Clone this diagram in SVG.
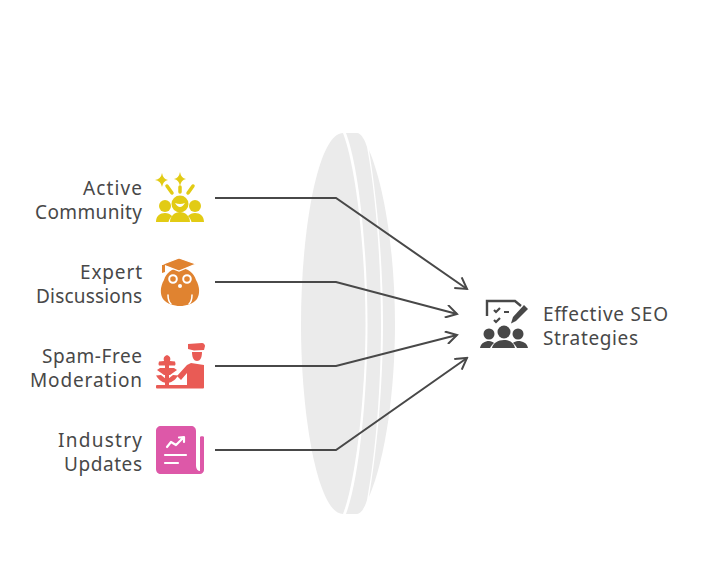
<svg xmlns="http://www.w3.org/2000/svg" width="708" height="564" viewBox="0 0 708 564">
<defs>
<style>
.t{font-family:"Noto Sans","Liberation Sans",sans-serif;font-size:19px;fill:#484848}
.lens{fill:#ebebeb}
.c{fill:none;stroke:#484848;stroke-width:2}
.w{fill:none;stroke:#fff;stroke-linecap:round;stroke-linejoin:round}
</style>
<marker id="a" viewBox="0 0 14 14" refX="12" refY="7" markerWidth="14" markerHeight="14" markerUnits="userSpaceOnUse" orient="auto"><path d="M1,0.500L12,7L1,13.500" fill="none" stroke="#484848" stroke-width="2"/></marker>
</defs>
<g id="lens">
<path class="lens" d="M369,150C386,190 395,260 395,324C395,388 386,458 369,497C377,450 383,385 383,324C383,263 377,198 369,150Z"/>
<path class="lens" d="M346,133H357C361,133 365,140 367,147C376,195 381,263 381,324C381,385 376,452 367,500C365,507 361,514 357,514H346C359,480 367.500,395 367.500,324C367.500,252 359,167 346,133Z"/>
<path class="lens" d="M343,133C318,133 301,230 301,324C301,418 318,514 343,514C356,480 365.500,395 365.500,324C365.500,252 356,167 343,133Z"/>
</g>
<g id="connectors">
<path class="c" marker-end="url(#a)" d="M215,198H336L467,289"/>
<path class="c" marker-end="url(#a)" d="M215,282H336L457,314"/>
<path class="c" marker-end="url(#a)" d="M215,366H336L457,335"/>
<path class="c" marker-end="url(#a)" d="M215,450H336L467,358"/>
</g>
<g id="node-active">
<text class="t" x="83" y="195" textLength="59">Active</text>
<text class="t" x="35" y="219" textLength="107">Community</text>
<g fill="#e2cb14">
<path d="M162,173Q163,179 168,180Q163,181 162,187Q161,181 155,180Q161,179 162,173ZM180,172Q181,178 186,179Q181,180 180,186Q179,180 174,179Q179,178 180,172Z"/>
<circle cx="165" cy="206" r="6"/><circle cx="195" cy="206" r="6"/><circle cx="180" cy="204" r="8.500"/>
<path d="M156,222C156,216 160,213 165,213C168,213 170,214 172,216C170,218 169,220 168.500,222ZM204,222C204,216 200,213 195,213C192,213 190,214 188,216C190,218 191,220 191.500,222ZM170,222C170,216 175,212 180,212C185,212 190,216 190,222Z"/>
<path d="M167,186L172,193M180,187V192M193,186L188,193" fill="none" stroke="#e2cb14" stroke-width="3.500" stroke-linecap="round"/>
</g>
<path d="M175,203Q180,211 185,203Q180,205 175,203Z" fill="#fff"/>
</g>
<g id="node-expert">
<text class="t" x="80" y="279" textLength="62">Expert</text>
<text class="t" x="36" y="303" textLength="106">Discussions</text>
<path fill="#e08330" d="M180,268C188,268 194,273 196,280C200,287 200,294 197,299C193,304 186,306 180,306C174,306 167,304 163,299C160,294 160,287 164,280C166,273 172,268 180,268Z"/>
<path fill="#e08330" stroke="#fff" stroke-width="1.200" d="M162,264.500L179,258L196,264L179,271Z"/>
<path fill="#e08330" d="M162,265H165V272L162,273Z"/>
<circle cx="173" cy="279" r="3.800" fill="#e08330" stroke="#fff" stroke-width="2"/>
<circle cx="187" cy="279" r="3.800" fill="#e08330" stroke="#fff" stroke-width="2"/>
<circle cx="180" cy="286" r="2" fill="#fff"/>
<path class="w" stroke-width="1.500" d="M168,295Q168,301 171,304M192,295Q192,301 189,304"/>
</g>
<g id="node-spam">
<text class="t" x="42" y="363" textLength="100">Spam-Free</text>
<text class="t" x="30" y="387" textLength="112">Moderation</text>
<g fill="#e95b55">
<rect x="156" y="385" width="48" height="3.500" rx="1"/>
<path d="M165,358H169V386H165Z"/>
<path d="M167,355C170,356 171,358 170,361L175,361.500Q176,364 175,365.500H159Q158,364 159,361.500L164,361C163,358 164,356 167,355Z"/>
<path d="M160,368H174L177,370L170,375H164L157,370ZM156,375.500L161,375L166,379V383C161,382 158,379 156,375.500ZM178,375.500L173,375L168,379V383C173,382 176,379 178,375.500Z"/>
<path d="M188,344L202,343C204,343 205,345 205,346L204,350L194,350.500L188,349Z"/>
<path d="M192,352H202C202,358 200,361 197,361C194,361 192,358 192,352Z"/>
<path d="M191,363L204,365V386H187V373L181,380L177,376L187,365Z"/>
</g>
</g>
<g id="node-industry">
<text class="t" x="58" y="447" textLength="84">Industry</text>
<text class="t" x="64" y="471" textLength="78">Updates</text>
<path fill="#dd58a8" d="M161,426H191C194,426 196,428 196,431V466C196,469 198,471 200,471V437C200,436 204,436 204,437V470C204,472 202,474 200,474H161C158,474 156,472 156,469V431C156,428 158,426 161,426Z"/>
<path class="w" stroke-width="2.200" d="M167,447L171,442L176,445L183,438M179,437.500L184,437L184,442M165,455H186M165,463H178"/>
</g>
<g id="node-target">
<path fill="none" stroke="#484848" stroke-width="2.400" d="M487,316V301H515L521,306"/>
<path fill="none" stroke="#484848" stroke-width="2.200" d="M494,310L496,312L500,308M494,320L496,322L500,318M504,312H509"/>
<path fill="#484848" d="M524,305L528,309L516,321L511,323.500L513,317Z"/>
<circle cx="489" cy="334" r="5.500" fill="#484848"/><circle cx="504" cy="332" r="6.500" fill="#484848"/><circle cx="518" cy="334" r="5.500" fill="#484848"/>
<path fill="#484848" d="M480,348C481,343 485,341 489,341C491,341 493,342 494,343C492,345 491,346 490,348ZM528,348C527,343 523,341 518,341C516,341 514,342 513,343C515,345 516,346 517,348ZM492,348C493,343 498,340 504,340C510,340 514,343 515,348Z"/>
<text class="t" x="543" y="321" textLength="125">Effective SEO</text>
<text class="t" x="543" y="345" textLength="95">Strategies</text>
</g>
</svg>
